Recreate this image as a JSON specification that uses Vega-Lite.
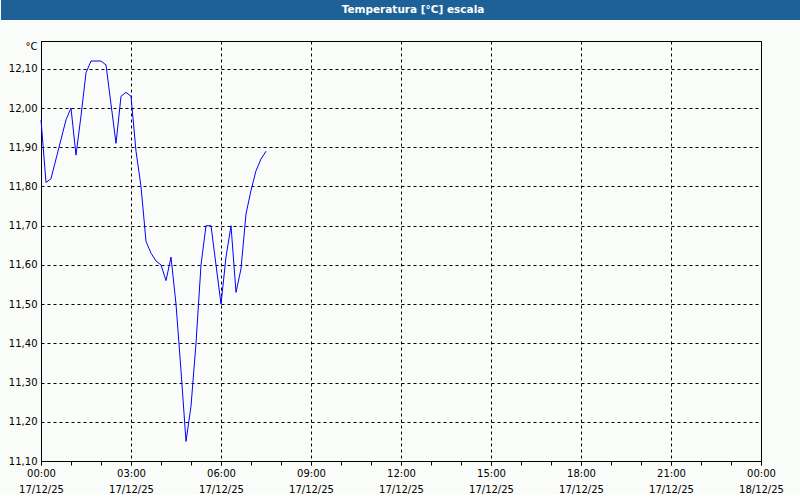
{
  "$schema": "https://vega.github.io/schema/vega-lite/v6.json",
  "background": "#fafcf9",
  "padding": 0,
  "spacing": 20,
  "config": {"font": "DejaVu Sans", "view": {"stroke": "black", "strokeWidth": 1}},
  "vconcat": [
    {
      "width": 760,
      "height": 20,
      "view": {"fill": "#1d6196", "stroke": null},
      "data": {"values": [{"titulo": "Temperatura [°C] escala"}]},
      "mark": {"type": "text", "color": "white", "fontWeight": "bold", "fontSize": 10.5, "dx": -8, "baseline": "middle", "align": "center"},
      "encoding": {
        "text": {"field": "titulo", "type": "nominal"},
        "y": {
          "field": "titulo",
          "type": "nominal",
          "scale": {"paddingInner": 0, "paddingOuter": 0},
          "axis": {"title": null, "labels": false, "ticks": false, "grid": false, "domain": true, "domainColor": "#1d6196", "domainWidth": 80, "domainCap": "butt", "translate": 0, "minExtent": 40, "maxExtent": 40}
        }
      }
    },
    {
      "width": 720,
      "height": 420,
      "data": {
        "values": [
          {"t": "2025-12-17T00:00", "v": 11.97},
          {"t": "2025-12-17T00:10", "v": 11.81},
          {"t": "2025-12-17T00:20", "v": 11.82},
          {"t": "2025-12-17T00:30", "v": 11.87},
          {"t": "2025-12-17T00:40", "v": 11.92},
          {"t": "2025-12-17T00:50", "v": 11.97},
          {"t": "2025-12-17T01:00", "v": 12.0},
          {"t": "2025-12-17T01:10", "v": 11.88},
          {"t": "2025-12-17T01:20", "v": 11.98},
          {"t": "2025-12-17T01:30", "v": 12.09},
          {"t": "2025-12-17T01:40", "v": 12.12},
          {"t": "2025-12-17T01:50", "v": 12.12},
          {"t": "2025-12-17T02:00", "v": 12.12},
          {"t": "2025-12-17T02:10", "v": 12.11},
          {"t": "2025-12-17T02:20", "v": 12.01},
          {"t": "2025-12-17T02:30", "v": 11.91},
          {"t": "2025-12-17T02:40", "v": 12.03},
          {"t": "2025-12-17T02:50", "v": 12.04},
          {"t": "2025-12-17T03:00", "v": 12.03},
          {"t": "2025-12-17T03:10", "v": 11.89},
          {"t": "2025-12-17T03:20", "v": 11.8},
          {"t": "2025-12-17T03:30", "v": 11.66},
          {"t": "2025-12-17T03:40", "v": 11.63},
          {"t": "2025-12-17T03:50", "v": 11.61},
          {"t": "2025-12-17T04:00", "v": 11.6},
          {"t": "2025-12-17T04:10", "v": 11.56},
          {"t": "2025-12-17T04:20", "v": 11.62},
          {"t": "2025-12-17T04:30", "v": 11.5},
          {"t": "2025-12-17T04:40", "v": 11.33},
          {"t": "2025-12-17T04:50", "v": 11.15},
          {"t": "2025-12-17T05:00", "v": 11.24},
          {"t": "2025-12-17T05:10", "v": 11.4},
          {"t": "2025-12-17T05:20", "v": 11.6},
          {"t": "2025-12-17T05:30", "v": 11.7},
          {"t": "2025-12-17T05:40", "v": 11.7},
          {"t": "2025-12-17T05:50", "v": 11.6},
          {"t": "2025-12-17T06:00", "v": 11.5},
          {"t": "2025-12-17T06:10", "v": 11.62},
          {"t": "2025-12-17T06:20", "v": 11.7},
          {"t": "2025-12-17T06:30", "v": 11.53},
          {"t": "2025-12-17T06:40", "v": 11.59},
          {"t": "2025-12-17T06:50", "v": 11.73},
          {"t": "2025-12-17T07:00", "v": 11.79},
          {"t": "2025-12-17T07:10", "v": 11.84},
          {"t": "2025-12-17T07:20", "v": 11.87},
          {"t": "2025-12-17T07:30", "v": 11.89}
        ]
      },
      "encoding": {
        "y": {
          "field": "v",
          "type": "quantitative",
          "scale": {"domain": [11.1, 12.171], "nice": false, "zero": false},
          "axis": {
            "title": "°C",
            "titleAngle": 0,
            "titleAlign": "right",
            "titleBaseline": "middle",
            "titleX": -4,
            "titleY": 5,
            "titleFontWeight": "normal",
            "titleFontSize": 10,
            "titleColor": "black",
            "values": [11.1, 11.2, 11.3, 11.4, 11.5, 11.6, 11.7, 11.8, 11.9, 12.0, 12.1],
            "labelExpr": "replace(format(datum.value, '.2f'), '.', ',')",
            "labelColor": "black",
            "labelFontSize": 10,
            "labelPadding": 4,
            "labelOverlap": false,
            "labelFlush": false,
            "ticks": false,
            "domainColor": "black",
            "grid": true,
            "gridColor": "black",
            "gridDash": [3, 3],
            "minExtent": 40,
            "maxExtent": 40
          }
        }
      },
      "layer": [
        {
          "mark": {"type": "line", "color": "#0000ff", "opacity": 0},
          "encoding": {
            "x": {
              "field": "t",
              "type": "temporal",
              "scale": {"domain": [{"year": 2025, "month": 12, "date": 17, "hours": 0}, {"year": 2025, "month": 12, "date": 18, "hours": 0}]},
              "axis": {
                "orient": "bottom",
                "title": null,
                "tickCount": 24,
                "labels": false,
                "domain": false,
                "grid": false,
                "tickSize": 4,
                "tickColor": "black"
              }
            }
          }
        },
        {
          "mark": {"type": "line", "color": "#0000ff", "strokeWidth": 1},
          "encoding": {
            "x": {
              "field": "t",
              "type": "temporal",
              "scale": {"domain": [{"year": 2025, "month": 12, "date": 17, "hours": 0}, {"year": 2025, "month": 12, "date": 18, "hours": 0}]},
              "axis": {
                "orient": "bottom",
                "title": null,
                "tickCount": 8,
                "labelExpr": "[timeFormat(datum.value, '%H:%M'), timeFormat(datum.value, '%d/%m/%y')]",
                "labelOverlap": false,
                "labelFlush": false,
                "labelBound": false,
                "labelColor": "black",
                "labelFontSize": 10,
                "labelLineHeight": 16,
                "labelPadding": 3,
                "tickSize": 4,
                "tickColor": "black",
                "domainColor": "black",
                "grid": true,
                "gridColor": "black",
                "gridDash": [3, 3]
              }
            }
          }
        }
      ],
      "resolve": {"axis": {"x": "independent"}}
    }
  ]
}
